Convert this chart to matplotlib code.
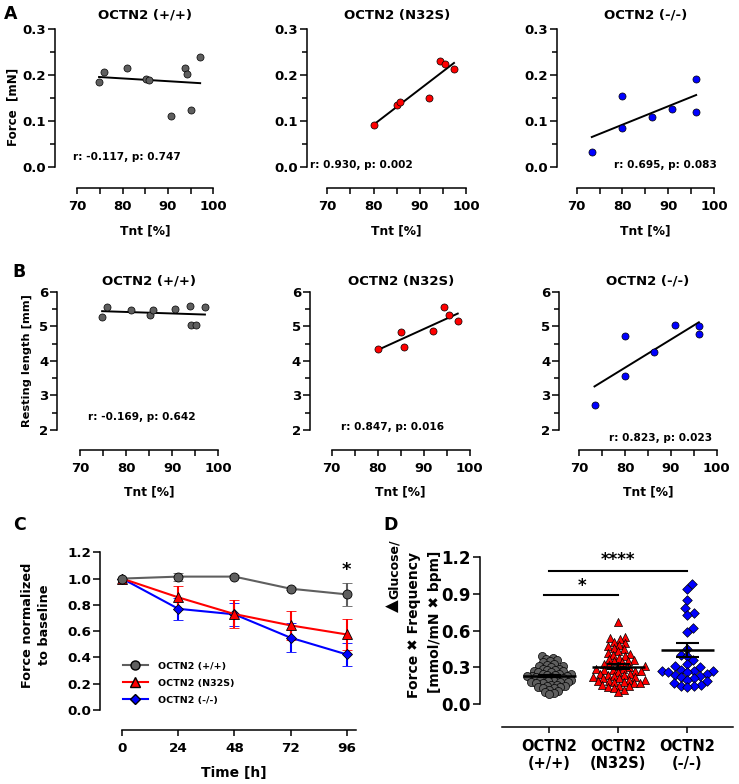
import numpy as np
import matplotlib
matplotlib.use("Agg")
import matplotlib.pyplot as plt
from matplotlib.lines import Line2D

# ---- panel A / B : Tnt vs force / resting length ----
tnt_wt = [74.8, 75.9, 81.0, 85.1, 85.9, 90.6, 93.8, 94.1, 95.1, 97.1]
force_wt = [0.186, 0.207, 0.216, 0.192, 0.190, 0.111, 0.215, 0.203, 0.124, 0.239]
length_wt = [5.26, 5.55, 5.48, 5.33, 5.47, 5.51, 5.60, 5.03, 5.03, 5.56]

tnt_n32s = [80.1, 85.0, 85.7, 92.1, 94.4, 95.4, 97.4]
force_n32s = [0.090, 0.134, 0.142, 0.151, 0.231, 0.224, 0.213]
length_n32s = [4.34, 4.82, 4.39, 4.85, 5.57, 5.32, 5.15]

tnt_ko = [73.3, 80.0, 80.0, 86.4, 90.8, 96.1, 96.1]
force_ko = [0.032, 0.155, 0.084, 0.108, 0.125, 0.191, 0.119]
length_ko = [2.73, 4.72, 3.56, 4.26, 5.05, 5.02, 4.77]

titles = ["OCTN2 (+/+)", "OCTN2 (N32S)", "OCTN2 (-/-)"]
stats_force = ["r: -0.117, p: 0.747", "r: 0.930, p: 0.002", "r: 0.695, p: 0.083"]
stats_length = ["r: -0.169, p: 0.642", "r: 0.847, p: 0.016", "r: 0.823, p: 0.023"]

# ---- panel C : force over time ----
time_h = [0, 24, 48, 72, 96]
c_wt = [1.0, 1.015, 1.015, 0.923, 0.88]
c_wt_err = [0.0, 0.03, 0.01, 0.012, 0.085]
c_n32s = [1.0, 0.857, 0.73, 0.644, 0.575]
c_n32s_err = [0.0, 0.09, 0.105, 0.11, 0.12]
c_ko = [1.0, 0.77, 0.728, 0.55, 0.423]
c_ko_err = [0.0, 0.085, 0.09, 0.11, 0.09]

# ---- panel D : glucose / force x frequency ----
d_wt = [0.39, 0.38, 0.37, 0.36, 0.35, 0.34, 0.33, 0.32, 0.31, 0.31, 0.30, 0.29, 0.29,
        0.28, 0.28, 0.27, 0.27, 0.26, 0.26, 0.25, 0.25, 0.25, 0.24, 0.24, 0.23, 0.23,
        0.23, 0.22, 0.22, 0.21, 0.21, 0.21, 0.20, 0.20, 0.19, 0.19, 0.18, 0.18, 0.18,
        0.17, 0.17, 0.16, 0.16, 0.15, 0.15, 0.14, 0.14, 0.13, 0.13, 0.12, 0.11, 0.10,
        0.09, 0.08]
d_n32s = [0.67, 0.55, 0.54, 0.53, 0.51, 0.50, 0.48, 0.47, 0.46, 0.45, 0.43, 0.42, 0.41,
          0.40, 0.39, 0.38, 0.37, 0.36, 0.35, 0.35, 0.34, 0.33, 0.32, 0.31, 0.31, 0.30,
          0.29, 0.29, 0.28, 0.28, 0.27, 0.27, 0.26, 0.25, 0.25, 0.24, 0.24, 0.23, 0.22,
          0.22, 0.21, 0.21, 0.20, 0.20, 0.19, 0.19, 0.18, 0.18, 0.17, 0.17, 0.16, 0.15,
          0.15, 0.14, 0.13, 0.12, 0.10]
d_ko = [0.98, 0.94, 0.85, 0.78, 0.74, 0.73, 0.62, 0.59, 0.45, 0.40, 0.39, 0.36, 0.33,
        0.31, 0.30, 0.28, 0.27, 0.27, 0.27, 0.26, 0.26, 0.25, 0.24, 0.23, 0.22, 0.21,
        0.20, 0.19, 0.17, 0.16, 0.15, 0.15, 0.14]
d_mean = [0.23, 0.306, 0.442]
d_sem = [0.012, 0.02, 0.055]
d_labels = ["OCTN2\n(+/+)", "OCTN2\n(N32S)", "OCTN2\n(-/-)"]

GRAY = "#5f5f5f"
RED = "#ff0000"
BLUE = "#0000ff"
colors = [GRAY, RED, BLUE]

plt.rcParams["font.family"] = ["DejaVu Sans"]
plt.rcParams["font.weight"] = "bold"
plt.rcParams["axes.labelweight"] = "bold"
plt.rcParams["axes.titleweight"] = "bold"
plt.rcParams["axes.linewidth"] = 1.1
plt.rcParams["xtick.major.width"] = 1.1
plt.rcParams["ytick.major.width"] = 1.1
plt.rcParams["xtick.minor.width"] = 1.1
plt.rcParams["ytick.minor.width"] = 1.1

W, H = 739, 784
fig = plt.figure(figsize=(W / 100, H / 100), dpi=100)


def add_ax(left, top, right, bottom):
    return fig.add_axes([left / W, 1 - bottom / H, (right - left) / W, (bottom - top) / H])


def px_text(x, y, s, **kw):
    fig.text(x / W, 1 - y / H, s, **kw)


def style_axes(ax, offset_px, xb, yb, size):
    for s in ["top", "right"]:
        ax.spines[s].set_visible(False)
    ax.spines["bottom"].set_position(("outward", offset_px * 0.72))
    ax.spines["bottom"].set_bounds(*xb)
    ax.spines["left"].set_bounds(*yb)
    ax.tick_params(which="major", length=5, labelsize=size, pad=1.5)
    ax.tick_params(which="minor", length=3.5)
    ax.tick_params(axis="x", which="both", length=4.5, pad=4.5)


def scatter_panel(ax, x, y, color, ylim, yticks, yminor, stat, stat_pos, offset):
    ax.scatter(x, y, s=26, color=color, edgecolor="black", linewidth=0.5, zorder=3, clip_on=False)
    k, b = np.polyfit(x, y, 1)
    xx = np.array([min(x), max(x)])
    ax.plot(xx, k * xx + b, color="black", lw=1.4, zorder=2)
    ax.set_ylim(*ylim)
    ax.set_yticks(yticks)
    ax.set_yticks(yminor, minor=True)
    ax.set_xticks([70, 80, 90, 100])
    ax.set_xticks([75, 85, 95], minor=True)
    style_axes(ax, offset, (70, 100), ylim, 9.5)
    px_text(stat_pos[0], stat_pos[1], stat, fontsize=7.6, ha=stat_pos[2], va="center")


# ---- rows A and B ----
a_cols = [(55, 77.3, 213.3), (306.7, 327.3, 466), (556.7, 576.7, 714)]
b_cols = [(57.3, 80, 218.3), (310, 331.7, 469.7), (559.3, 579.4, 716.7)]
a_stat_pos = [(73, 157, "left"), (310, 165, "left"), (717, 165, "right")]
b_stat_pos = [(88, 417, "left"), (341, 427, "left"), (712, 438, "right")]

tnt_sets = [tnt_wt, tnt_n32s, tnt_ko]
force_sets = [force_wt, force_n32s, force_ko]
length_sets = [length_wt, length_n32s, length_ko]

for i in range(3):
    left, x70, x100 = a_cols[i]
    ppu = (x100 - x70) / 30
    ax = add_ax(left, 29.3, x100, 166.7)
    ax.set_xlim(70 - (x70 - left) / ppu, 100)
    scatter_panel(ax, tnt_sets[i], force_sets[i], colors[i], (0, 0.3),
                  [0, 0.1, 0.2, 0.3], [0.05, 0.15, 0.25], stats_force[i], a_stat_pos[i], 21.3)
    ax.set_yticklabels(["0.0", "0.1", "0.2", "0.3"])
    px_text((x70 + x100) / 2, 15, titles[i], fontsize=9.5, ha="center", va="center")
    px_text((x70 + x100) / 2, 231, "Tnt [%]", fontsize=8.8, ha="center", va="center")

    left, x70, x100 = b_cols[i]
    ppu = (x100 - x70) / 30
    ax = add_ax(left, 291.7, x100, 430)
    ax.set_xlim(70 - (x70 - left) / ppu, 100)
    scatter_panel(ax, tnt_sets[i], length_sets[i], colors[i], (2, 6),
                  [2, 3, 4, 5, 6], [2.5, 3.5, 4.5, 5.5], stats_length[i], b_stat_pos[i], 20)
    px_text((x70 + x100) / 2, 281, titles[i], fontsize=9.5, ha="center", va="center")
    px_text((x70 + x100) / 2, 492, "Tnt [%]", fontsize=8.8, ha="center", va="center")

px_text(13, 107, "Force  [mN]", fontsize=8.6, rotation=90, ha="center", va="center")
px_text(27, 361, "Resting length [mm]", fontsize=8.2, rotation=90, ha="center", va="center")

# ---- panel C ----
axc = add_ax(100, 552.3, 356.7, 710)
axc.set_xlim(-9.5, 100.3)
axc.set_ylim(0, 1.2)
for yv, err, col, mk, ms in [(c_ko, c_ko_err, BLUE, "D", 5.2),
                              (c_n32s, c_n32s_err, RED, "^", 6.8),
                              (c_wt, c_wt_err, GRAY, "o", 6.5)]:
    axc.errorbar(time_h, yv, yerr=err, color=col, marker=mk, ms=ms, mfc=col, mec="black",
                 mew=0.6, lw=1.5, capsize=3.5, capthick=1.5, elinewidth=1.5, zorder=3,
                 clip_on=False)
axc.text(96, 1.065, "*", fontsize=13, ha="center", va="center")
axc.set_xticks(time_h)
axc.set_yticks(np.arange(0, 1.21, 0.2))
axc.set_yticklabels(["0.0", "0.2", "0.4", "0.6", "0.8", "1.0", "1.2"])
style_axes(axc, 20, (0, 100), (0, 1.2), 9.7)
px_text(234, 773, "Time [h]", fontsize=10, ha="center", va="center")
handles = [Line2D([], [], color=GRAY, marker="o", ms=6.5, mfc=GRAY, mec="black", lw=1.5),
           Line2D([], [], color=RED, marker="^", ms=6.8, mfc=RED, mec="black", lw=1.5),
           Line2D([], [], color=BLUE, marker="D", ms=5.2, mfc=BLUE, mec="black", lw=1.5)]
axc.legend(handles, titles, loc="center left", bbox_to_anchor=(0.09, 0.171), frameon=False,
           fontsize=6.8, handlelength=2.6, labelspacing=0.85, handletextpad=1.1,
           borderpad=0, borderaxespad=0)
px_text(36, 625, "Force normalized\nto baseline", fontsize=9.3, rotation=90,
        ha="center", va="center", multialignment="center", linespacing=1.35)


# ---- panel D ----
def swarm_offsets(vals, ypx, d):
    vals = np.asarray(vals)
    xs = np.zeros(len(vals))
    placed = []
    for i in np.argsort(vals):
        y = vals[i] * ypx
        near = [(px, py) for px, py in placed if abs(py - y) < d]
        cands = [0.0]
        for px, py in near:
            dx = np.sqrt(d * d - (py - y) ** 2)
            cands += [px + dx, px - dx]
        cands.sort(key=abs)
        for c in cands:
            if all((c - px) ** 2 + (y - py) ** 2 >= d * d - 1e-6 for px, py in near):
                xs[i] = c
                placed.append((c, y))
                break
    return xs


axd = add_ax(480, 556.7, 733, 704.3)
axd.set_xlim(-1.004, 2.66)
axd.set_ylim(0, 1.2)
ypx = 147.6 / 1.2
d_sets = [d_wt, d_n32s, d_ko]
markers = ["o", "^", "D"]
sizes = [34, 34, 24]
spacing = [4.6, 6.0, 6.8]
for i in range(3):
    off = swarm_offsets(d_sets[i], ypx, spacing[i]) / 69.0
    axd.scatter(i + off, d_sets[i], s=sizes[i], marker=markers[i], color=colors[i],
                edgecolor="black", linewidth=0.5, zorder=2, clip_on=False)
    axd.hlines(d_mean[i], i - 0.38, i + 0.38, color="black", lw=1.8, zorder=4)
    axd.vlines(i, d_mean[i] - d_sem[i], d_mean[i] + d_sem[i], color="black", lw=1.5, zorder=4)
    axd.hlines([d_mean[i] - d_sem[i], d_mean[i] + d_sem[i]], i - 0.17, i + 0.17,
               color="black", lw=1.5, zorder=4)

axd.plot([0, 2], [1.084, 1.084], color="black", lw=1.5, clip_on=False)
axd.text(1.0, 1.17, "****", fontsize=12, ha="center", va="center", clip_on=False)
axd.plot([-0.07, 1.0], [0.886, 0.886], color="black", lw=1.5, clip_on=False)
axd.text(0.47, 0.965, "*", fontsize=12, ha="center", va="center", clip_on=False)
axd.set_xticks([0, 1, 2])
axd.set_xticklabels(d_labels)
axd.set_yticks([0, 0.3, 0.6, 0.9, 1.2])
axd.set_yticklabels(["0.0", "0.3", "0.6", "0.9", "1.2"])
style_axes(axd, 22.4, (-0.69, 2.66), (0, 1.2), 12)
axd.tick_params(axis="y", pad=1.5)
axd.tick_params(axis="x", labelsize=10.5, pad=4)
px_text(393, 606, "\u25b2", fontsize=12, rotation=90, ha="center", va="center")
px_text(394, 569, "Glucose/", fontsize=9, rotation=90, ha="center", va="center")
px_text(414, 625, "Force \u2716 Frequency", fontsize=10, rotation=90, ha="center", va="center")
px_text(435, 622, "[mmol/mN \u2716 bpm]", fontsize=10, rotation=90, ha="center", va="center")

# ---- panel letters ----
for letter, x, y in [("A", 4, 14), ("B", 12, 272), ("C", 13, 525), ("D", 383, 525)]:
    px_text(x, y, letter, fontsize=12.5, ha="left", va="center")

fig.savefig("out.png", dpi=100)
